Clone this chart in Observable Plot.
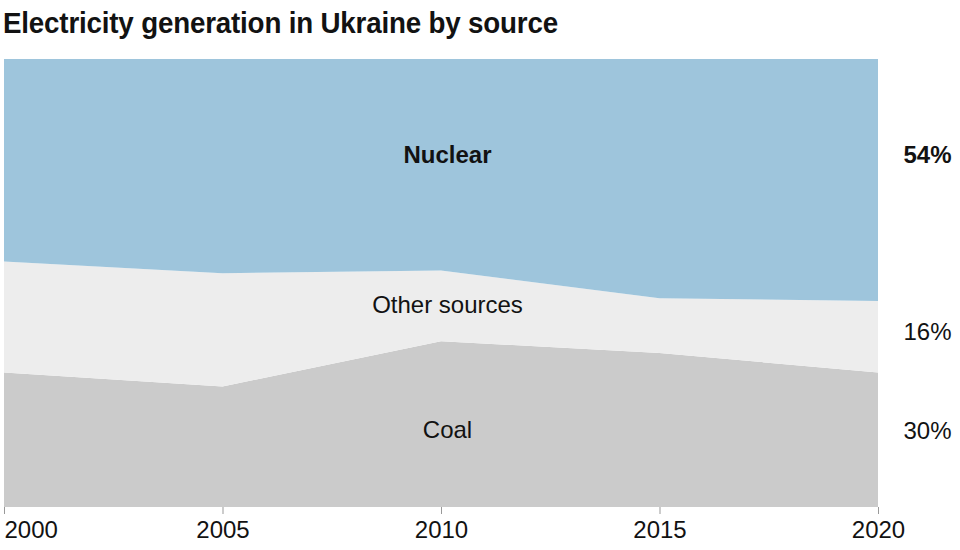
<!DOCTYPE html>
<html><head><meta charset="utf-8">
<script src="https://cdn.jsdelivr.net/npm/d3@7"></script>
<script src="https://cdn.jsdelivr.net/npm/@observablehq/plot@0.6"></script>
<style>
body{margin:0;background:#fff;}
.title{margin:0;height:50px;padding-left:3px;overflow:visible;}
.title span{display:inline-block;transform:scaleX(0.925);transform-origin:0 0;font-family:"Liberation Sans",Arial,sans-serif;font-weight:bold;font-size:30px;line-height:46px;color:#121212;white-space:nowrap;letter-spacing:-0.2px;}
</style></head><body>
<div class="title"><span>Electricity generation in Ukraine by source</span></div>
<div id="chart"></div>
<script>
const years = [2000, 2005, 2010, 2015, 2020];
const sources = ["Coal", "Other sources", "Nuclear"];
const coal = [30.0, 26.9, 37.0, 34.4, 30];
const other = [24.8, 25.3, 15.8, 12.2, 16];
const nuclear = [45.2, 47.8, 47.2, 53.4, 54];
const colors = ["#cbcbcb", "#ededed", "#9ec5dc"];

const series = [coal, other, nuclear];
const rows = [];
years.forEach((yr, i) => {
  sources.forEach((s, j) => rows.push({year: yr, source: s, share: series[j][i]}));
});

const last = years.length - 1;
const font = "Liberation Sans, Arial, sans-serif";
const inBold = [{source: sources[2], y: 78.6}];
const inNormal = [{source: sources[1], y: 45.1}, {source: sources[0], y: 17.3}];
const endBold = [{text: Math.round(nuclear[last]) + "%", y: 78.6}];
const endNormal = [
  {text: Math.round(other[last]) + "%", y: 39.1},
  {text: Math.round(coal[last]) + "%", y: 17.1}
];

const chart = Plot.plot({
  width: 960,
  height: 500,
  marginTop: 9,
  marginBottom: 43,
  marginLeft: 4,
  marginRight: 82,
  style: {fontFamily: font, fontSize: "24px", color: "#121212", background: "#fff"},
  x: {domain: [2000, 2020]},
  y: {domain: [0, 100], axis: null},
  color: {domain: sources, range: colors},
  marks: [
    Plot.areaY(rows, {x: "year", y: "share", fill: "source", order: sources, curve: "linear"}),
    Plot.axisX({ticks: years.slice(1), tickSize: 7, tickPadding: 6, tickFormat: d => String(d), label: null, stroke: "#999", fill: "#121212"}),
    Plot.axisX({ticks: [years[0]], tickSize: 7, tickPadding: 6, tickFormat: d => String(d), label: null, textAnchor: "start", stroke: "#999", fill: "#121212"}),
    Plot.text(inBold, {x: () => years[2], y: "y", text: "source", dx: 6, fontFamily: font, fontSize: 24, fontWeight: "bold", fill: "#121212"}),
    Plot.text(inNormal, {x: () => years[2], y: "y", text: "source", dx: 6, fontFamily: font, fontSize: 24, fill: "#121212"}),
    Plot.text(endBold, {x: () => years[last], y: "y", text: "text", dx: 25, textAnchor: "start", fontFamily: font, fontSize: 24, fontWeight: "bold", fill: "#121212"}),
    Plot.text(endNormal, {x: () => years[last], y: "y", text: "text", dx: 25, textAnchor: "start", fontFamily: font, fontSize: 24, fill: "#121212"})
  ]
});
document.getElementById("chart").appendChild(chart);
</script>
</body></html>
